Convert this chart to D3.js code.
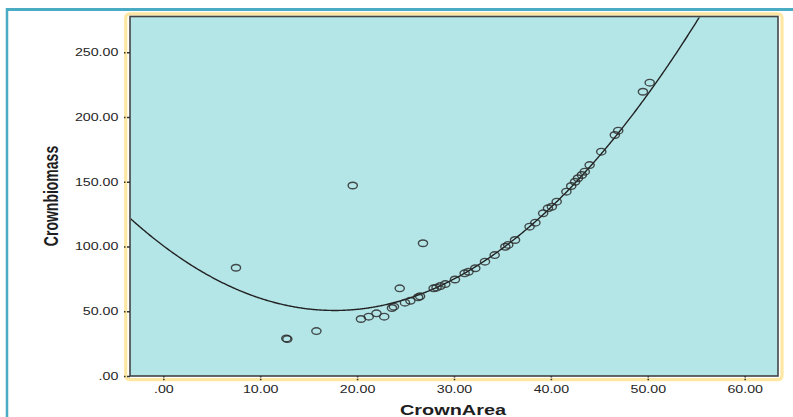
<!DOCTYPE html>
<html>
<head>
<meta charset="utf-8">
<script src="https://cdn.jsdelivr.net/npm/d3@7"></script>
<style>
  html, body { margin: 0; padding: 0; background: #ffffff; }
  svg { display: block; }
</style>
</head>
<body>
<svg id="chart" width="793" height="417"></svg>
<script>
// ---- Data ----
const crownArea = [7.5, 12.7, 12.8, 15.8, 19.55, 20.4, 21.2, 22.0, 22.8, 23.6, 23.8, 24.4, 24.94, 25.5, 26.3, 26.5, 26.8,
  27.9, 28.2, 28.6, 29.1, 30.1, 31.1, 31.5, 32.2, 33.2, 34.2, 35.3, 35.6, 36.3, 37.8, 38.4, 39.2, 39.7, 40.1, 40.6,
  41.6, 42.1, 42.5, 42.8, 43.2, 43.5, 44.0, 45.2, 46.6, 46.95, 49.5, 50.2];
const crownBiomass = [83.6, 29.0, 28.5, 34.7, 147.1, 44.0, 45.8, 48.4, 45.8, 52.5, 53.5, 67.7, 56.6, 58.1, 60.8, 61.5, 102.5,
  67.7, 68.2, 69.5, 71.0, 74.5, 79.3, 80.5, 83.2, 88.3, 93.4, 99.8, 101.2, 105.0, 115.3, 118.4, 125.6, 129.5, 130.7, 134.6,
  142.3, 146.7, 150.0, 152.7, 155.2, 157.8, 162.9, 173.2, 186.1, 189.4, 219.5, 226.5];
// quadratic fit line: y = c0 + c1*x + c2*x^2
const fitCoefficients = [100.55, -5.650, 0.1598];
const xTickValues = [0, 10, 20, 30, 40, 50, 60];
const yTickValues = [0, 50, 100, 150, 200, 250];
const xTitle = "CrownArea";
const yTitle = "Crownbiomass";

// ---- Layout ----
const svg = d3.select("#chart");
const plot = { left: 130, right: 778, top: 16.5, bottom: 376 };
const stretch = 1.42; // horizontal stretch of text in the reference

const x = d3.scaleLinear().domain([-3.437, 63.44]).range([plot.left, plot.right]);
const y = d3.scaleLinear().domain([0, 277.6]).range([plot.bottom, plot.top]);

const fmt = d => { const s = d3.format(".2f")(d); return s.startsWith("0.") ? s.slice(1) : s; };

// outer teal frame (left and top edges visible)
svg.append("line").attr("x1", 7).attr("x2", 7).attr("y1", 8).attr("y2", 417)
  .attr("stroke", "#4aabc4").attr("stroke-width", 2.5);
svg.append("line").attr("x1", 6).attr("x2", 793).attr("y1", 9.5).attr("y2", 9.5)
  .attr("stroke", "#4aabc4").attr("stroke-width", 3);

// yellow rounded frame
svg.append("rect")
  .attr("x", plot.left - 4.3).attr("y", plot.top - 2.7)
  .attr("width", plot.right - plot.left + 8.3).attr("height", plot.bottom - plot.top + 6.4)
  .attr("rx", 4).attr("fill", "none").attr("stroke", "#fde7a2").attr("stroke-width", 3.2);

// plot background
svg.append("rect")
  .attr("x", plot.left).attr("y", plot.top)
  .attr("width", plot.right - plot.left).attr("height", plot.bottom - plot.top)
  .attr("fill", "#b4e6e8").attr("stroke", "#444").attr("stroke-width", 1.6);

// clip
svg.append("clipPath").attr("id", "clip").append("rect")
  .attr("x", plot.left + 1).attr("y", plot.top + 1)
  .attr("width", plot.right - plot.left - 2).attr("height", plot.bottom - plot.top - 2);

// y axis
const yAxis = svg.append("g").attr("transform", `translate(${plot.left},0)`)
  .call(d3.axisLeft(y).tickValues(yTickValues).tickFormat(fmt).tickSize(7).tickSizeOuter(0));
yAxis.select(".domain").remove();
yAxis.selectAll(".tick line").attr("stroke", "#333").attr("stroke-width", 1.6).attr("stroke-dasharray", "3,1.5,1.5,1");
yAxis.selectAll(".tick text")
  .attr("x", -11.7 / stretch).attr("dy", "0.34em")
  .attr("transform", `scale(${stretch},1)`)
  .attr("font-family", "'Liberation Sans', Arial, sans-serif").attr("font-size", 10).attr("fill", "#262626");

// x axis
const xAxis = svg.append("g").attr("transform", `translate(0,${plot.bottom})`)
  .call(d3.axisBottom(x).tickValues(xTickValues).tickFormat(fmt).tickSize(5).tickSizeOuter(0));
xAxis.select(".domain").remove();
xAxis.selectAll(".tick line").attr("stroke", "#333").attr("stroke-width", 1.6).attr("stroke-dasharray", "1.5,1.2");
xAxis.selectAll(".tick text")
  .attr("y", 9.7)
  .attr("transform", `scale(${stretch},1)`)
  .attr("font-family", "'Liberation Sans', Arial, sans-serif").attr("font-size", 10).attr("fill", "#262626");

// fit curve
const xs = d3.range(x.domain()[0], x.domain()[1] + 0.01, 0.1);
const fit = v => fitCoefficients[0] + fitCoefficients[1] * v + fitCoefficients[2] * v * v;
svg.append("path")
  .datum(xs)
  .attr("clip-path", "url(#clip)")
  .attr("d", d3.line().x(d => x(d)).y(d => y(fit(d))))
  .attr("fill", "none").attr("stroke", "#222").attr("stroke-width", 1.4);

// points (markers appear horizontally stretched in the reference)
svg.append("g").attr("clip-path", "url(#clip)")
  .selectAll("ellipse").data(crownArea.map((v, i) => [v, crownBiomass[i]]))
  .join("ellipse")
  .attr("cx", d => x(d[0])).attr("cy", d => y(d[1])).attr("rx", 4.6).attr("ry", 3.3)
  .attr("fill", "none").attr("stroke", "#2b2b2b").attr("stroke-opacity", 0.85).attr("stroke-width", 1.4);

// titles
svg.append("text")
  .attr("transform", `translate(453,415) scale(${stretch},1)`)
  .attr("text-anchor", "middle")
  .attr("font-family", "'Liberation Sans', Arial, sans-serif").attr("font-weight", "bold")
  .attr("font-size", 14).attr("fill", "#1e1e1e")
  .text(xTitle);

svg.append("text")
  .attr("transform", `translate(57.5,196) scale(${stretch},1) rotate(-90)`)
  .attr("text-anchor", "middle")
  .attr("font-family", "'Liberation Sans', Arial, sans-serif").attr("font-weight", "bold")
  .attr("font-size", 14).attr("fill", "#1e1e1e")
  .text(yTitle);
</script>
</body>
</html>
